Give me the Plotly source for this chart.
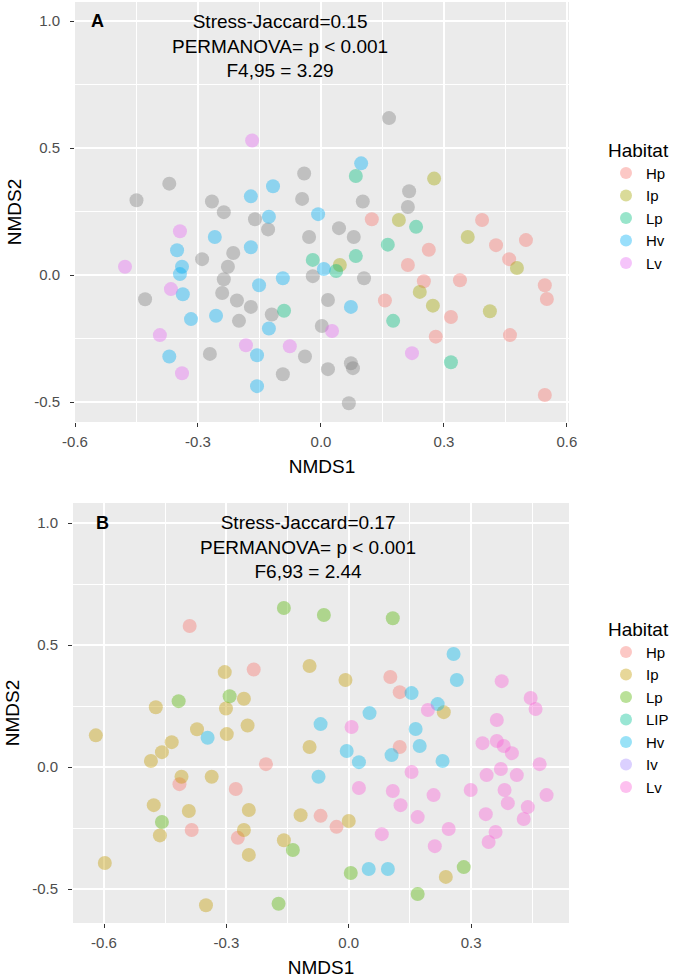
import plotly.graph_objects as go

# ---- Panel A: NMDS1 / NMDS2 scores per habitat (grey = samples without habitat) ----
a_hp_x = [0.124, 0.263, 0.212, 0.251, 0.156, 0.280, 0.393, 0.427, 0.500, 0.459, 0.339, 0.546, 0.551, 0.317, 0.461, 0.546]
a_hp_y = [0.220, 0.100, 0.040, -0.024, -0.100, -0.242, 0.217, 0.118, 0.138, 0.063, -0.020, -0.040, -0.094, -0.165, -0.236, -0.472]

a_ip_x = [0.276, 0.190, 0.046, 0.241, 0.273, 0.358, 0.478, 0.412]
a_ip_y = [0.380, 0.217, 0.040, -0.066, -0.120, 0.150, 0.028, -0.142]

a_lp_x = [0.085, 0.232, 0.163, -0.020, 0.085, 0.037, -0.090, 0.176, 0.317]
a_lp_y = [0.390, 0.190, 0.120, 0.060, 0.075, 0.016, -0.140, -0.180, -0.343]

a_hv_x = [-0.117, -0.171, -0.127, -0.007, -0.259, 0.098, -0.171, 0.007, -0.093, -0.151, 0.073,
          -0.256, -0.127, -0.351, -0.339, -0.344, -0.337, -0.317, -0.370, -0.156, -0.156]
a_hv_y = [0.350, 0.310, 0.230, 0.240, 0.150, 0.440, 0.110, 0.024, -0.012, -0.040, -0.125,
          -0.160, -0.210, 0.098, 0.033, 0.004, -0.075, -0.173, -0.320, -0.315, -0.437]

a_lv_x = [-0.168, -0.344, -0.478, -0.366, -0.393, -0.183, -0.076, -0.339, 0.027, 0.222]
a_lv_y = [0.530, 0.173, 0.033, -0.055, -0.236, -0.276, -0.280, -0.386, -0.220, -0.307]

a_na_x = [-0.041, -0.370, -0.450, -0.266, -0.237, -0.161, -0.129, -0.046, -0.029, 0.102, 0.215, 0.212,
          0.044, 0.080, -0.290, -0.214, -0.227, -0.237, -0.020, 0.105, -0.241, -0.205, -0.171, 0.017,
          -0.120, -0.200, 0.002, -0.429, -0.271, -0.039, 0.017, -0.093, 0.073, 0.078, 0.068, 0.166]
a_na_y = [0.400, 0.360, 0.295, 0.290, 0.248, 0.220, 0.180, 0.300, 0.150, 0.290, 0.330, 0.268,
          0.185, 0.150, 0.063, 0.087, 0.033, -0.016, -0.004, -0.012, -0.070, -0.100, -0.125, -0.098,
          -0.155, -0.180, -0.200, -0.095, -0.310, -0.320, -0.370, -0.390, -0.347, -0.366, -0.504, 0.618]

# ---- Panel B ----
b_hp_x = [-0.390, -0.233, -0.203, -0.415, -0.277, -0.069, -0.385, -0.272, -0.030, 0.102, 0.125, 0.125]
b_hp_y = [0.578, 0.400, 0.012, -0.070, -0.090, -0.200, -0.258, -0.290, -0.245, 0.369, 0.307, 0.082]

b_ip_x = [-0.096, -0.304, -0.257, -0.473, -0.301, -0.248, -0.372, -0.620, -0.299, -0.434, -0.458, -0.485,
          -0.096, -0.410, -0.336, -0.478, -0.392, -0.245, -0.118, -0.257, -0.463, -0.159, -0.245, -0.598,
          -0.350, -0.008, 0.233, 0.000, 0.238]
b_ip_y = [0.414, 0.389, 0.280, 0.245, 0.240, 0.170, 0.155, 0.130, 0.135, 0.102, 0.061, 0.025,
          0.082, -0.040, -0.040, -0.156, -0.180, -0.176, -0.197, -0.258, -0.280, -0.300, -0.360, -0.393,
          -0.566, 0.357, 0.225, -0.221, -0.450]

b_lp_x = [-0.159, -0.061, -0.292, -0.417, -0.458, -0.137, -0.172, 0.108, 0.005, 0.282, 0.169]
b_lp_y = [0.652, 0.623, 0.290, 0.270, -0.225, -0.340, -0.560, 0.610, -0.434, -0.410, -0.520]

b_lip_x, b_lip_y = [None], [None]
b_iv_x, b_iv_y = [None], [None]

b_hv_x = [-0.069, -0.346, -0.074, 0.257, 0.265, 0.154, 0.051, 0.218, 0.164, 0.174, -0.005, 0.105,
          0.025, 0.230, 0.049, 0.096]
b_hv_y = [0.176, 0.120, -0.040, 0.463, 0.357, 0.303, 0.221, 0.258, 0.156, 0.086, 0.066, 0.049,
          0.020, 0.025, -0.418, -0.418]

b_lv_x = [0.375, 0.446, 0.458, 0.194, 0.363, 0.007, 0.328, 0.363, 0.380, 0.400, 0.468, 0.154,
          0.373, 0.338, 0.412, 0.025, 0.108, 0.208, 0.299, 0.382, 0.485, 0.127, 0.390, 0.439,
          0.169, 0.336, 0.429, 0.245, 0.360, 0.081, 0.343, 0.211]
b_lv_y = [0.352, 0.283, 0.238, 0.234, 0.193, 0.164, 0.098, 0.107, 0.086, 0.057, 0.012, -0.020,
          -0.008, -0.033, -0.033, -0.086, -0.098, -0.115, -0.094, -0.094, -0.115, -0.156, -0.148, -0.164,
          -0.205, -0.193, -0.213, -0.254, -0.266, -0.275, -0.307, -0.324]

a_groups = [('Hp', a_hp_x, a_hp_y, '#F8766D'), ('Ip', a_ip_x, a_ip_y, '#A3A500'),
            ('Lp', a_lp_x, a_lp_y, '#00BF7D'), ('Hv', a_hv_x, a_hv_y, '#00B0F6'),
            ('Lv', a_lv_x, a_lv_y, '#E76BF3')]
b_groups = [('Hp', b_hp_x, b_hp_y, '#F8766D'), ('Ip', b_ip_x, b_ip_y, '#C49A00'),
            ('Lp', b_lp_x, b_lp_y, '#53B400'), ('LIP', b_lip_x, b_lip_y, '#00C094'),
            ('Hv', b_hv_x, b_hv_y, '#00B6EB'), ('Iv', b_iv_x, b_iv_y, '#A58AFF'),
            ('Lv', b_lv_x, b_lv_y, '#FB61D7')]

FONT = 'Liberation Sans, Arial, sans-serif'
W, H = 685, 979

fig = go.Figure()

fig.add_trace(go.Scatter(x=a_na_x, y=a_na_y, mode='markers', showlegend=False,
                         marker=dict(size=14, color='#7F7F7F', opacity=0.4, line=dict(width=0)),
                         xaxis='x', yaxis='y'))
for name, xs, ys, col in a_groups:
    fig.add_trace(go.Scatter(x=xs, y=ys, mode='markers', name=name, legend='legend',
                             marker=dict(size=14, color=col, opacity=0.4, line=dict(width=0)),
                             xaxis='x', yaxis='y'))
for name, xs, ys, col in b_groups:
    fig.add_trace(go.Scatter(x=xs, y=ys, mode='markers', name=name, legend='legend2',
                             marker=dict(size=14, color=col, opacity=0.4, line=dict(width=0)),
                             xaxis='x2', yaxis='y2'))

def px_x(p):
    return p / W

def px_y(p):
    return 1 - p / H

axis_common = dict(showline=False, zeroline=False, ticks='outside', ticklen=4, tickwidth=1,
                   tickcolor='#333333', gridcolor='white', gridwidth=1.6,
                   tickfont=dict(family=FONT, size=15, color='#4D4D4D'),
                   minor=dict(showgrid=True, gridcolor='white', gridwidth=0.7),
                   automargin=False, fixedrange=True)
x_common = dict(axis_common, ticklabelstandoff=2)
y_common = dict(axis_common, ticklabelstandoff=7)

fig.update_layout(
    width=W, height=H,
    margin=dict(l=0, r=0, t=0, b=0),
    paper_bgcolor='white', plot_bgcolor='#EBEBEB',
    font=dict(family=FONT, color='black'),
    xaxis=dict(x_common, domain=[px_x(75), px_x(569)], range=[-0.6, 0.605],
               tickvals=[-0.6, -0.3, 0.0, 0.3, 0.6], ticktext=['-0.6', '-0.3', '0.0', '0.3', '0.6'],
               minor_tickvals=[-0.45, -0.15, 0.15, 0.45], minor_ticks='',
               title=dict(text='NMDS1', font=dict(size=19), standoff=10), anchor='y'),
    yaxis=dict(y_common, domain=[px_y(422), px_y(2)], range=[-0.578, 1.075],
               tickvals=[-0.5, 0.0, 0.5, 1.0], ticktext=['-0.5', '0.0', '0.5', '1.0'],
               minor_tickvals=[-0.25, 0.25, 0.75], minor_ticks='',
               title=dict(text='NMDS2', font=dict(size=19), standoff=7), anchor='x'),
    xaxis2=dict(x_common, domain=[px_x(73), px_x(569)], range=[-0.676, 0.540],
                tickvals=[-0.6, -0.3, 0.0, 0.3], ticktext=['-0.6', '-0.3', '0.0', '0.3'],
                minor_tickvals=[-0.45, -0.15, 0.15, 0.45], minor_ticks='',
                title=dict(text='NMDS1', font=dict(size=19), standoff=10), anchor='y2'),
    yaxis2=dict(y_common, domain=[px_y(923), px_y(503)], range=[-0.639, 1.082],
                tickvals=[-0.5, 0.0, 0.5, 1.0], ticktext=['-0.5', '0.0', '0.5', '1.0'],
                minor_tickvals=[-0.25, 0.25, 0.75], minor_ticks='',
                title=dict(text='NMDS2', font=dict(size=19), standoff=7), anchor='x2'),
    legend=dict(x=px_x(606), y=px_y(132), xanchor='left', yanchor='top',
                title=dict(text='Habitat', font=dict(size=19)),
                font=dict(size=15), bgcolor='rgba(0,0,0,0)', itemsizing='constant'),
    legend2=dict(x=px_x(606), y=px_y(611), xanchor='left', yanchor='top',
                 title=dict(text='Habitat', font=dict(size=19)),
                 font=dict(size=15), bgcolor='rgba(0,0,0,0)', itemsizing='constant'),
    annotations=[
        dict(x=-0.546, y=1.0, xref='x', yref='y', text='<b>A</b>', showarrow=False,
             font=dict(size=18)),
        dict(x=-0.1, y=0.9, xref='x', yref='y', showarrow=False, align='center',
             text='Stress-Jaccard=0.15<br>PERMANOVA= p < 0.001<br>F4,95 = 3.29',
             font=dict(size=19)),
        dict(x=-0.604, y=1.0, xref='x2', yref='y2', text='<b>B</b>', showarrow=False,
             font=dict(size=18)),
        dict(x=-0.1, y=0.9, xref='x2', yref='y2', showarrow=False, align='center',
             text='Stress-Jaccard=0.17<br>PERMANOVA= p < 0.001<br>F6,93 = 2.44',
             font=dict(size=19)),
    ],
)

# drop the default page margin so the figure sits at the window's top-left corner
fig.write_html('out.html', config={'displayModeBar': False},
               post_script="document.body.style.margin='0';document.body.style.overflow='hidden';")
